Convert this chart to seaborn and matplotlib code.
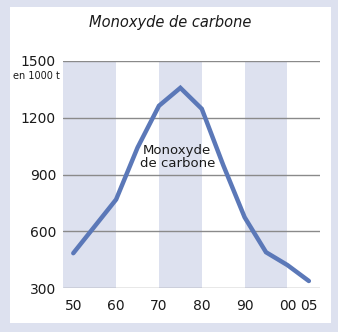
import matplotlib
matplotlib.use("Agg")
import matplotlib.pyplot as plt
import seaborn as sns
import pandas as pd
from matplotlib.patches import Rectangle

years = [1950, 1960, 1965, 1970, 1975, 1980, 1985, 1990, 1995, 2000, 2005]
values = [484, 768, 1042, 1263, 1358, 1247, 950, 674, 489, 421, 337]
yticks = [300, 600, 900, 1200, 1500]
xticks = [1950, 1960, 1970, 1980, 1990, 2000, 2005]
xlabels = ["50", "60", "70", "80", "90", "00", "05"]
bands = [(1947.6, 1960), (1970, 1980), (1990, 2000)]

sns.set_theme(style="white")
plt.rcParams['font.family'] = ['DejaVu Sans']

W, H = 338, 332
fig = plt.figure(figsize=(W/100, H/100), dpi=100)
fig.patch.set_facecolor("#dde1ef")
fig.patches.append(Rectangle((10/W, 1-323/H), 321/W, 316/H, transform=fig.transFigure,
                             facecolor="white", edgecolor="none", zorder=-10))

ax = fig.add_axes([63/W, 1-288/H, 257/W, 227/H])
ax.set_facecolor("none")
for a, b in bands:
    ax.axvspan(a, b, color="#dde1ef", lw=0, zorder=0)
for y in yticks:
    ax.axhline(y, color="#8a8a8a", lw=1.0, zorder=1)

df = pd.DataFrame({"year": years, "value": values})
sns.lineplot(data=df, x="year", y="value", ax=ax, color="#5b78b8", lw=3.2,
             solid_capstyle="round", solid_joinstyle="miter", zorder=3)

ax.set_xlim(1947.6, 2007.6)
ax.set_ylim(300, 1500)
ax.set_yticks(yticks)
ax.set_yticklabels([str(v) for v in yticks], fontsize=10, color="#1a1a1a")
ax.set_xticks(xticks)
ax.set_xticklabels(xlabels, fontsize=10, color="#1a1a1a")
ax.tick_params(axis="both", length=0, pad=5)
ax.tick_params(axis="x", pad=8)
for s in ax.spines.values():
    s.set_visible(False)
ax.set_xlabel("")
ax.set_ylabel("")

fig.text(170/W, 1-22/H, "Monoxyde de carbone", ha="center", va="center",
         fontsize=10.5, style="italic", color="#1a1a1a")
fig.text(36/W, 1-76/H, "en 1000 t", ha="center", va="center", fontsize=7, color="#1a1a1a")
ax.text(1974.3, 990, "Monoxyde\nde carbone", ha="center", va="center", fontsize=9.5,
        color="#1a1a1a", linespacing=1.0, zorder=4)

fig.savefig("out.png", dpi=100)
